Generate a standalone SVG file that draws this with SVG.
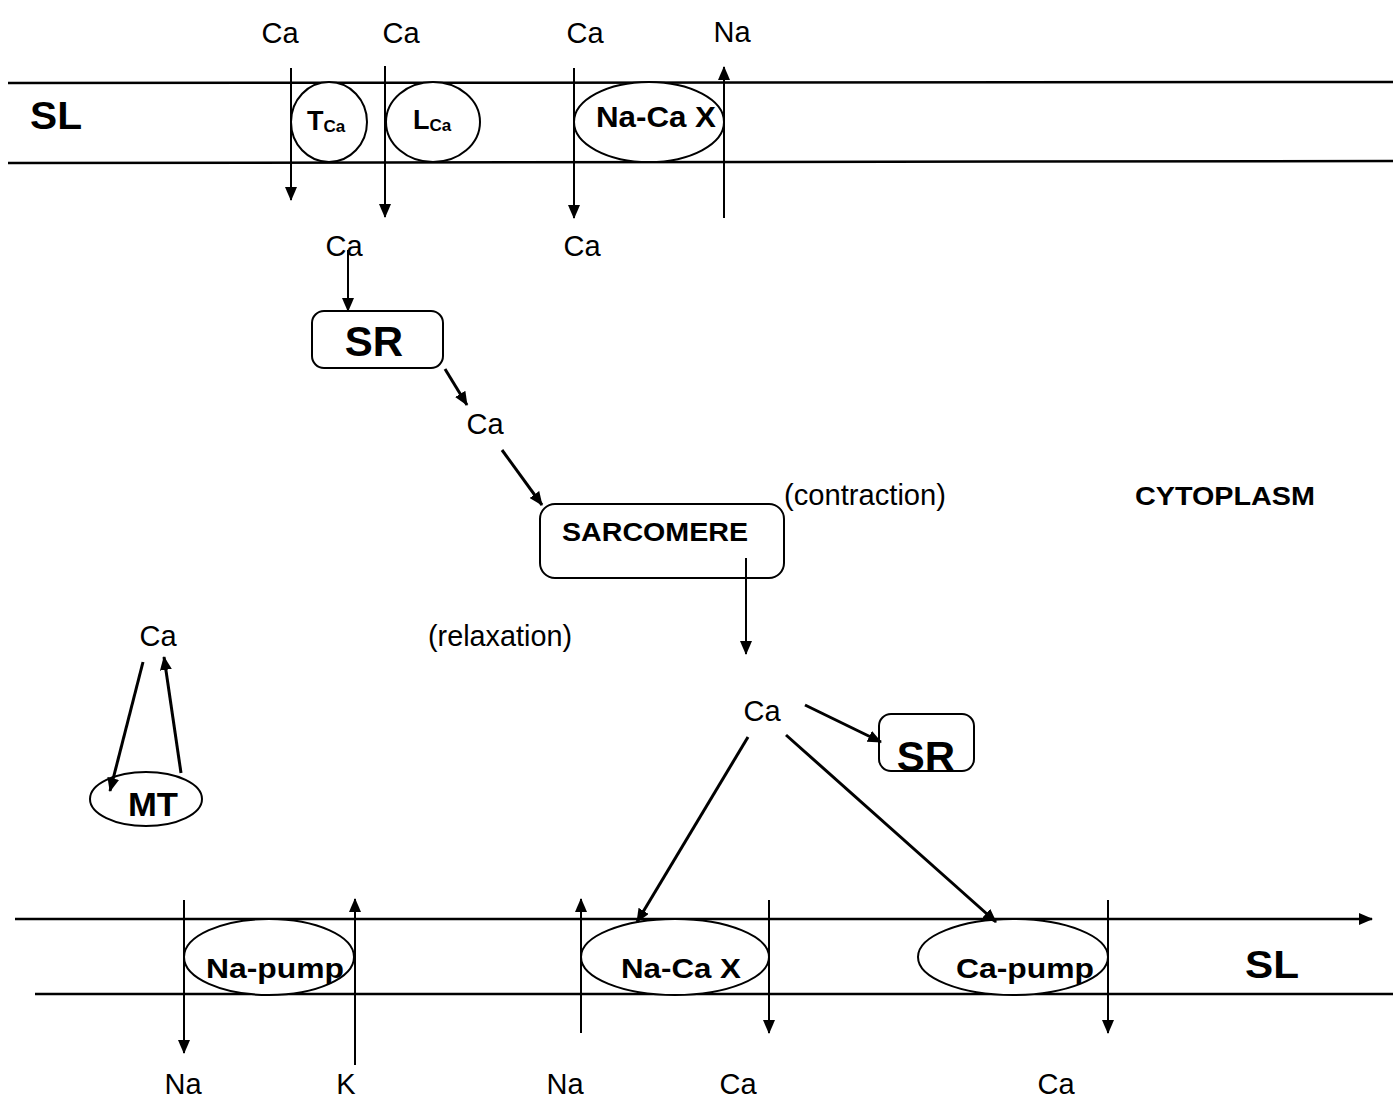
<svg xmlns="http://www.w3.org/2000/svg" width="1393" height="1101" viewBox="0 0 1393 1101">
<defs>
<marker id="ah" markerWidth="14" markerHeight="12" refX="13" refY="6" orient="auto" markerUnits="userSpaceOnUse">
<path d="M0,0 L14,6 L0,12 z" fill="#000"/>
</marker>
<style>
.t{font-family:"Liberation Sans",Arial,sans-serif;font-size:29px;fill:#000}
.b{font-family:"Liberation Sans",Arial,sans-serif;font-weight:bold;fill:#000}
.m{stroke:#000;stroke-width:2.5;fill:none}
.a{stroke:#000;stroke-width:2;fill:none;marker-end:url(#ah)}
.d{stroke:#000;stroke-width:3;fill:none;marker-end:url(#ah)}
.s{stroke:#000;stroke-width:2;fill:#fff}
</style>
</defs>
<rect width="1393" height="1101" fill="#fff"/>

<g id="membrane-top">
<line class="m" x1="8" y1="83" x2="1393" y2="82"/>
<line class="m" x1="8" y1="163" x2="1393" y2="161"/>
<text class="b" x="30" y="129" font-size="38" textLength="52" lengthAdjust="spacingAndGlyphs">SL</text>
</g>

<g id="T_Ca">
<ellipse class="s" cx="329" cy="122" rx="38" ry="40"/>
<text class="b" x="307" y="130" font-size="27">T<tspan font-size="17" dy="2">Ca</tspan></text>
</g>
<g id="L_Ca">
<ellipse class="s" cx="433" cy="122" rx="47" ry="40"/>
<text class="b" x="413" y="129" font-size="27">L<tspan font-size="17" dy="2">Ca</tspan></text>
</g>
<g id="NaCaX-top">
<ellipse class="s" cx="649" cy="122" rx="75" ry="40"/>
<text class="b" x="596" y="127" font-size="29" textLength="120" lengthAdjust="spacingAndGlyphs">Na-Ca X</text>
</g>

<g id="SR1">
<rect class="s" x="312" y="311" width="131" height="57" rx="12"/>
<text class="b" x="374" y="356" font-size="42" text-anchor="middle">SR</text>
</g>
<g id="SARCOMERE">
<rect class="s" x="540" y="504" width="244" height="74" rx="15"/>
<text class="b" x="562" y="541" font-size="26" textLength="186" lengthAdjust="spacingAndGlyphs">SARCOMERE</text>
</g>
<g id="MT">
<ellipse class="s" cx="146" cy="799" rx="56" ry="27"/>
<text class="b" x="128" y="816" font-size="34" textLength="50" lengthAdjust="spacingAndGlyphs">MT</text>
</g>
<g id="SR2">
<rect class="s" x="879" y="714" width="95" height="57" rx="12"/>
<text class="b" x="926" y="771" font-size="42" text-anchor="middle">SR</text>
</g>

<g id="membrane-bottom">
<line class="m" x1="15" y1="919" x2="1372" y2="919" marker-end="url(#ah)"/>
<line class="m" x1="35" y1="994" x2="1393" y2="994"/>
<text class="b" x="1245" y="978" font-size="38" textLength="54" lengthAdjust="spacingAndGlyphs">SL</text>
</g>
<g id="Na-pump">
<ellipse class="s" cx="269" cy="957" rx="85" ry="38"/>
<text class="b" x="206" y="978" font-size="28" textLength="138" lengthAdjust="spacingAndGlyphs">Na-pump</text>
</g>
<g id="NaCaX-bottom">
<ellipse class="s" cx="675" cy="957" rx="94" ry="38"/>
<text class="b" x="621" y="978" font-size="28" textLength="120" lengthAdjust="spacingAndGlyphs">Na-Ca X</text>
</g>
<g id="Ca-pump">
<ellipse class="s" cx="1013" cy="957" rx="95" ry="38"/>
<text class="b" x="956" y="978" font-size="28" textLength="138" lengthAdjust="spacingAndGlyphs">Ca-pump</text>
</g>

<g id="connectors">
<line class="a" x1="291" y1="68" x2="291" y2="200"/>
<line class="a" x1="385" y1="66" x2="385" y2="217"/>
<line class="a" x1="574" y1="68" x2="574" y2="218"/>
<line class="a" x1="724" y1="218" x2="724" y2="67"/>
<line class="a" x1="348" y1="250" x2="348" y2="311"/>
<line class="d" x1="445" y1="369" x2="467" y2="405"/>
<line class="d" x1="502" y1="450" x2="542" y2="505"/>
<line class="a" x1="746" y1="558" x2="746" y2="654"/>
<line class="d" x1="143" y1="662" x2="110" y2="791"/>
<line class="d" x1="181" y1="773" x2="164" y2="657"/>
<line class="d" x1="805" y1="705" x2="881" y2="742"/>
<line class="d" x1="748" y1="737" x2="637" y2="922"/>
<line class="d" x1="786" y1="735" x2="996" y2="922"/>
<line class="a" x1="184" y1="900" x2="184" y2="1053"/>
<line class="a" x1="355" y1="1065" x2="355" y2="899"/>
<line class="a" x1="581" y1="1033" x2="581" y2="899"/>
<line class="a" x1="769" y1="900" x2="769" y2="1033"/>
<line class="a" x1="1108" y1="900" x2="1108" y2="1033"/>
</g>

<g id="labels">
<text class="t" x="280" y="43" text-anchor="middle">Ca</text>
<text class="t" x="401" y="43" text-anchor="middle">Ca</text>
<text class="t" x="585" y="43" text-anchor="middle">Ca</text>
<text class="t" x="732" y="42" text-anchor="middle">Na</text>
<text class="t" x="344" y="256" text-anchor="middle">Ca</text>
<text class="t" x="582" y="256" text-anchor="middle">Ca</text>
<text class="t" x="485" y="434" text-anchor="middle">Ca</text>
<text class="t" x="784" y="505" font-size="26" textLength="162" lengthAdjust="spacingAndGlyphs">(contraction)</text>
<text class="b" x="1135" y="505" font-size="25" textLength="180" lengthAdjust="spacingAndGlyphs">CYTOPLASM</text>
<text class="t" x="428" y="646" font-size="26" textLength="144" lengthAdjust="spacingAndGlyphs">(relaxation)</text>
<text class="t" x="158" y="646" text-anchor="middle">Ca</text>
<text class="t" x="762" y="721" text-anchor="middle">Ca</text>
<text class="t" x="183" y="1094" text-anchor="middle">Na</text>
<text class="t" x="346" y="1094" text-anchor="middle">K</text>
<text class="t" x="565" y="1094" text-anchor="middle">Na</text>
<text class="t" x="738" y="1094" text-anchor="middle">Ca</text>
<text class="t" x="1056" y="1094" text-anchor="middle">Ca</text>
</g>
</svg>
